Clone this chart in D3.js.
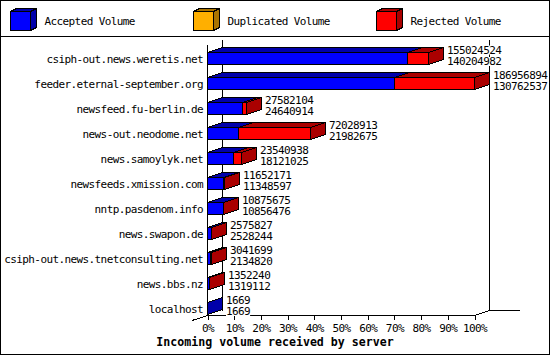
<!DOCTYPE html>
<html>
<head>
<meta charset="utf-8">
<script src="https://cdn.jsdelivr.net/npm/d3@7"></script>
<style>
body { margin: 0; background: #fff; }
text { font-family: "DejaVu Sans Mono", monospace; font-size: 11px; letter-spacing: -0.6px; fill: #000; }
.title { font-weight: bold; font-size: 11.6px; letter-spacing: 0; }
</style>
</head>
<body>
<svg id="chart" width="550" height="355"></svg>
<script>
const servers = [
    "csiph-out.news.weretis.net",
    "feeder.eternal-september.org",
    "newsfeed.fu-berlin.de",
    "news-out.neodome.net",
    "news.samoylyk.net",
    "newsfeeds.xmission.com",
    "nntp.pasdenom.info",
    "news.swapon.de",
    "csiph-out.news.tnetconsulting.net",
    "news.bbs.nz",
    "localhost"
];
// incoming volume (top number) and accepted volume (bottom number)
const incoming = [155024524, 186956894, 27582104, 72028913, 23540938, 11652171, 10875675, 2575827, 3041699, 1352240, 1669];
const accepted = [140204982, 130762537, 24640914, 21982675, 18121025, 11348597, 10856476, 2528244, 2134820, 1319112, 1669];
const duplicated = [0, 0, 0, 0, 0, 0, 0, 0, 0, 0, 0];

const seriesNames = ["Accepted Volume", "Duplicated Volume", "Rejected Volume"];
const seriesColors = ["#0000FF", "#FFAF00", "#FF0000"];
const seriesDark = ["#0000AA", "#AA7400", "#AA0000"];
const tickValues = [0, 10, 20, 30, 40, 50, 60, 70, 80, 90, 100];
const xTitle = "Incoming volume received by server";

const DX = 15, DY = 5;

let svg = d3.select("#chart");

svg.append("rect")
    .attr("x", 0.5).attr("y", 0.5)
    .attr("width", 549).attr("height", 354)
    .attr("fill", "#fff").attr("stroke", "#000");
svg.append("line")
    .attr("x1", 0).attr("x2", 550)
    .attr("y1", 36.5).attr("y2", 36.5)
    .attr("stroke", "#000");

// draws one pseudo-3d block: front, top, side
function block(g, x0, x1, yT, yB, dx, dy, fill, dark) {
    g.append("rect")
        .attr("x", x0).attr("y", yT)
        .attr("width", x1 - x0).attr("height", yB - yT)
        .attr("fill", fill).attr("stroke", "#000");
    g.append("polygon")
        .attr("points", [[x0, yT], [x0 + dx, yT - dy], [x1 + dx, yT - dy], [x1, yT]].join(" "))
        .attr("fill", dark).attr("stroke", "#000");
    g.append("polygon")
        .attr("points", [[x1, yT], [x1 + dx, yT - dy], [x1 + dx, yB - dy], [x1, yB]].join(" "))
        .attr("fill", dark).attr("stroke", "#000");
}

// legend
let legend = svg.append("g").attr("shape-rendering", "crispEdges");
seriesNames.forEach((name, i) => {
    let lx = 10.5 + i * 183;
    block(legend, lx, lx + 20, 11.5, 30.5, 6, 3, seriesColors[i], seriesDark[i]);
    legend.append("text")
        .attr("x", lx + 34).attr("y", 25)
        .text(name);
});

let y = d3.scalePoint().domain(servers).range([59, 309]);
let x = d3.scaleLinear().domain([0, d3.max(incoming)]).range([207, 474]);
let pct = d3.scaleLinear().domain([0, 100]).range([207, 474]);

let yAxis = y(servers[servers.length - 1]) + 6;
let x0 = x(0), xMax = x(d3.max(incoming));

let frame = svg.append("g").attr("shape-rendering", "crispEdges").attr("stroke", "#000").attr("fill", "none");
frame.append("line")
    .attr("x1", x0 + DX + 0.5).attr("x2", x0 + DX + 0.5)
    .attr("y1", 40).attr("y2", yAxis - DY + 0.5);
frame.append("line")
    .attr("x1", xMax + DX + 0.5).attr("x2", xMax + DX + 0.5)
    .attr("y1", 40).attr("y2", yAxis - DY + 0.5);
frame.append("line")
    .attr("x1", x0 + 0.5).attr("x2", x0 + 0.5)
    .attr("y1", y(servers[0]) - 14).attr("y2", yAxis + 0.5);
frame.append("path")
    .attr("d", d3.line()([
        [x0 - DX, yAxis + DY + 0.5],
        [x0 + 0.5, yAxis + 0.5],
        [xMax + 0.5, yAxis + 0.5],
        [xMax + DX + 0.5, yAxis - DY + 0.5],
        [xMax + DX + 31, yAxis - DY + 0.5]
    ]));

// bars
let bars = svg.append("g").attr("shape-rendering", "crispEdges");
servers.forEach((s, i) => {
    let rejected = incoming[i] - accepted[i] - duplicated[i];
    let parts = [accepted[i], duplicated[i], rejected];
    let cy = y(s);
    let acc = 0;
    parts.forEach((v, k) => {
        if (v <= 0) return;
        let a = Math.round(x(acc)) + 0.5;
        acc += v;
        let b = Math.round(x(acc)) + 0.5;
        block(bars, a, b, cy - 6.5, cy + 5.5, DX, DY, seriesColors[k], seriesDark[k]);
    });
});

// row labels
svg.append("g").selectAll("text")
    .data(servers)
    .join("text")
    .attr("x", 203)
    .attr("y", d => y(d) + 4)
    .attr("text-anchor", "end")
    .text(d => d);

// value labels
let vals = svg.append("g");
servers.forEach((s, i) => {
    let tx = Math.round(x(incoming[i])) + DX + 4;
    let cy = y(s);
    [[incoming[i], cy - 5.5], [accepted[i], cy + 6]].forEach(([v, ty]) => {
        let t = vals.append("text").attr("x", tx).attr("y", ty).text(v);
        let bb = t.node().getBBox();
        vals.insert("rect", () => t.node())
            .attr("x", bb.x).attr("y", bb.y + 2)
            .attr("width", bb.width).attr("height", bb.height - 4)
            .attr("fill", "#fff");
    });
});

// x axis
let axis = d3.axisBottom(pct)
    .tickValues(tickValues)
    .tickFormat(d => d + "%")
    .tickSize(4)
    .tickPadding(5);
let gx = svg.append("g")
    .attr("transform", "translate(0.5," + (yAxis + 0.5) + ")")
    .attr("shape-rendering", "crispEdges")
    .call(axis);
gx.select(".domain").remove();
gx.selectAll("text").attr("font-family", null).attr("font-size", null);

svg.append("text")
    .attr("class", "title")
    .attr("x", 275).attr("y", 346)
    .attr("text-anchor", "middle")
    .text(xTitle);
</script>
</body>
</html>
